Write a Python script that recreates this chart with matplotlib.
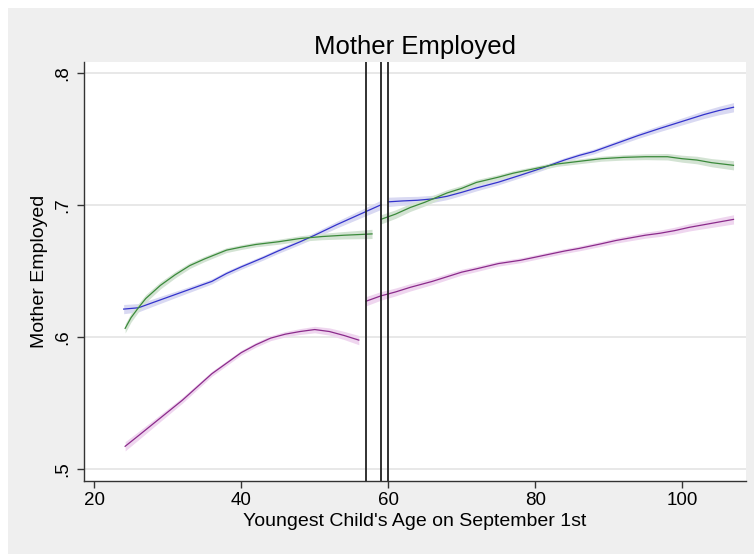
import numpy as np
import matplotlib
matplotlib.use("Agg")
from matplotlib import pyplot as plt
from matplotlib.patches import Rectangle

plt.rcParams['font.family'] = ['Liberation Sans', 'DejaVu Sans']

# fitted employment rate by youngest child's age (months), left and right of each cutoff
blue_x_lo = [24, 26, 28, 31, 33, 36, 38, 40, 43, 45, 48, 50, 53, 55, 57, 59]
blue_y_lo = [0.621, 0.622, 0.626, 0.632, 0.636, 0.642, 0.648, 0.653, 0.660, 0.665,
             0.672, 0.677, 0.685, 0.690, 0.695, 0.700]
blue_x_hi = [60, 62, 64, 66, 68, 70, 72, 75, 78, 81, 84, 86, 88, 90, 92, 94, 97, 99,
             101, 103, 105, 107]
blue_y_hi = [0.7023, 0.7030, 0.7035, 0.7045, 0.7065, 0.7095, 0.7128, 0.7172, 0.7225,
             0.7280, 0.7340, 0.7375, 0.7405, 0.7445, 0.7485, 0.7525, 0.7580, 0.7615,
             0.7650, 0.7685, 0.7715, 0.7740]

green_x_lo = [24.2, 25, 26, 27, 28, 29, 31, 33, 35, 38, 40, 42, 45, 48, 51, 54, 56, 57.8]
green_y_lo = [0.6064, 0.6145, 0.622, 0.629, 0.634, 0.639, 0.647, 0.654, 0.659, 0.6657,
              0.668, 0.670, 0.672, 0.6745, 0.676, 0.677, 0.6775, 0.678]
green_x_hi = [59, 61, 63, 65, 68, 70, 72, 75, 77, 80, 83, 86, 89, 92, 95, 98, 100, 102,
              104, 107]
green_y_hi = [0.689, 0.693, 0.698, 0.702, 0.709, 0.7125, 0.717, 0.721, 0.724, 0.7275,
              0.731, 0.733, 0.735, 0.736, 0.7365, 0.7365, 0.735, 0.734, 0.732, 0.730]

purple_x_lo = [24.2, 26, 28, 30, 32, 34, 36, 38, 40, 42, 44, 46, 48, 50, 52, 54, 56]
purple_y_lo = [0.517, 0.525, 0.534, 0.543, 0.552, 0.562, 0.572, 0.580, 0.588, 0.594,
               0.599, 0.602, 0.604, 0.6055, 0.604, 0.601, 0.5975]
purple_x_hi = [57, 59, 61, 63, 66, 68, 70, 72, 75, 78, 81, 84, 86, 89, 91, 93, 95, 97,
               99, 101, 103, 105, 107]
purple_y_hi = [0.627, 0.631, 0.634, 0.6375, 0.642, 0.6455, 0.649, 0.6515, 0.6555, 0.658,
               0.6615, 0.665, 0.667, 0.6705, 0.673, 0.675, 0.677, 0.6785, 0.6805, 0.683,
               0.685, 0.687, 0.689]

# half-width of the shaded confidence band at each end and in the middle of a segment
band_end = 0.0035
band_mid = 0.0018

cutoffs = [57, 59, 60]
xticks = [20, 40, 60, 80, 100]
yticks = [0.5, 0.6, 0.7, 0.8]
yticklabels = ['.5', '.6', '.7', '.8']


def band(x):
    x = np.asarray(x, dtype=float)
    t = (x - x.min()) / (x.max() - x.min())
    return band_mid + (band_end - band_mid) * (2 * t - 1) ** 2


def draw_segment(ax, x, y, line_col, band_col):
    y = np.asarray(y)
    w = band(x)
    ax.fill_between(x, y - w, y + w, color=band_col, lw=0, zorder=2)
    ax.plot(x, y, color=line_col, lw=0.9, zorder=3)


fig = plt.figure(figsize=(7.54, 5.54), dpi=100, facecolor='white')
bg = Rectangle((8 / 754, 0), 1, 546 / 554, transform=fig.transFigure,
               facecolor='#efefef', edgecolor='none', zorder=-10)
fig.add_artist(bg)

ax = fig.add_axes([84 / 754, 73 / 554, 662 / 754, 419 / 554])
ax.set_facecolor('white')

for y in yticks:
    ax.axhline(y, color='#e6e6e6', lw=1.3, zorder=1)

draw_segment(ax, blue_x_lo, blue_y_lo, '#3333cc', '#d9d9f2')
draw_segment(ax, blue_x_hi, blue_y_hi, '#3333cc', '#d9d9f2')
draw_segment(ax, purple_x_lo, purple_y_lo, '#8b2b8b', '#efd6ef')
draw_segment(ax, purple_x_hi, purple_y_hi, '#8b2b8b', '#efd6ef')
draw_segment(ax, green_x_lo, green_y_lo, '#3b8a3b', '#d3e3d3')
draw_segment(ax, green_x_hi, green_y_hi, '#3b8a3b', '#d3e3d3')

for c in cutoffs:
    ax.axvline(c, color='#222222', lw=1.3, zorder=4)

ax.set_xlim(18.6, 108.7)
ax.set_ylim(0.4907, 0.8083)
ax.set_xticks(xticks)
ax.set_yticks(yticks)
ax.set_yticklabels(yticklabels, rotation=90, va='center')

for s in ['top', 'right']:
    ax.spines[s].set_visible(False)
for s in ['left', 'bottom']:
    ax.spines[s].set_color('#333333')
    ax.spines[s].set_linewidth(1.0)

ax.tick_params(axis='both', colors='#333333', labelcolor='black', labelsize=13.5,
               length=5, width=1.0)
ax.tick_params(axis='y', pad=4)
ax.tick_params(axis='x', pad=3)

ax.set_title('Mother Employed', fontsize=18.5, pad=6)
ax.set_xlabel("Youngest Child's Age on September 1st", fontsize=14, labelpad=3)
ax.set_ylabel('Mother Employed', fontsize=14, labelpad=5)

fig.savefig('out.png', dpi=100, facecolor=fig.get_facecolor())
